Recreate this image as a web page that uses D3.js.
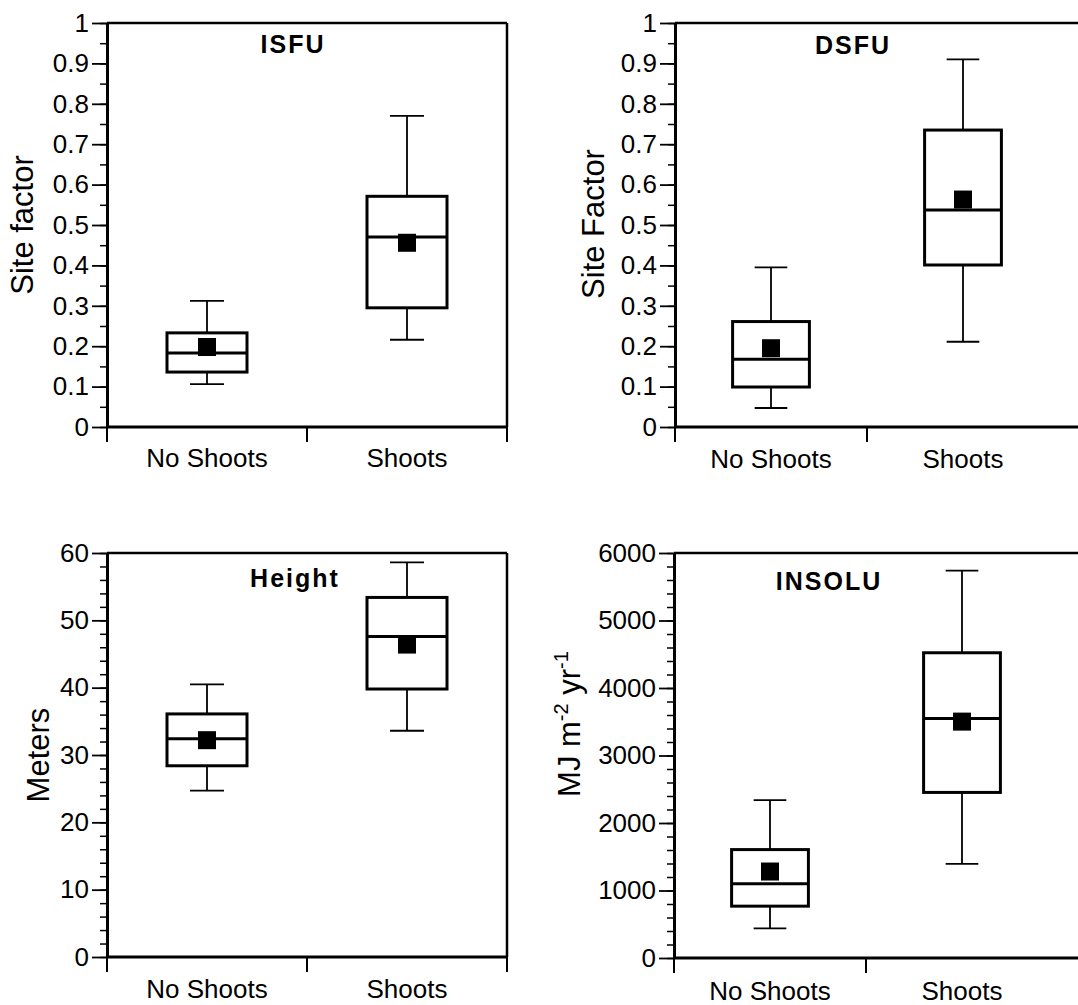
<!DOCTYPE html>
<html>
<head>
<meta charset="utf-8">
<script src="https://cdn.jsdelivr.net/npm/d3@7"></script>
<style>
  html, body { margin: 0; padding: 0; background: #fff; }
  svg { display: block; }
  text { font-family: "Liberation Sans", Arial, Helvetica, sans-serif; fill: #000; }
</style>
</head>
<body>
<svg id="chart" width="1078" height="1005"></svg>
<script>
const categories = ['No Shoots', 'Shoots'];

// five-number summaries plus mean
const isfuStats = [
  { min: 0.106, q1: 0.136, median: 0.183, q3: 0.233, max: 0.312, mean: 0.198 },
  { min: 0.216, q1: 0.295, median: 0.470, q3: 0.571, max: 0.770, mean: 0.456 }
];
const dsfuStats = [
  { min: 0.047, q1: 0.099, median: 0.168, q3: 0.261, max: 0.395, mean: 0.195 },
  { min: 0.211, q1: 0.401, median: 0.537, q3: 0.735, max: 0.910, mean: 0.563 }
];
const heightStats = [
  { min: 24.7, q1: 28.4, median: 32.4, q3: 36.1, max: 40.5, mean: 32.2 },
  { min: 33.6, q1: 39.8, median: 47.6, q3: 53.4, max: 58.6, mean: 46.4 }
];
const insoluStats = [
  { min: 438, q1: 768, median: 1099, q3: 1606, max: 2340, mean: 1281 },
  { min: 1394, q1: 2453, median: 3547, q3: 4522, max: 5739, mean: 3502 }
];

const siteTicks = [0, 0.1, 0.2, 0.3, 0.4, 0.5, 0.6, 0.7, 0.8, 0.9, 1];
const heightTicks = [0, 10, 20, 30, 40, 50, 60];
const insoluTicks = [0, 1000, 2000, 3000, 4000, 5000, 6000];

// right column is cropped in the original, so its frame runs off the page
const panels = [
  { title: 'ISFU', stats: isfuStats, ticks: siteTicks, minorStep: 0.05, yLabel: 'Site factor',
    left: 107, right: 507, frameRight: 507, top: 23, bottom: 427,
    titleX: 293, titleY: 53, labelX: 33, labelY: 225, catY: 467 },
  { title: 'DSFU', stats: dsfuStats, ticks: siteTicks, minorStep: 0.05, yLabel: 'Site Factor',
    left: 675, right: 1059, frameRight: 1110, top: 23, bottom: 427,
    titleX: 853, titleY: 54, labelX: 604, labelY: 224, catY: 468 },
  { title: 'Height', stats: heightStats, ticks: heightTicks, minorStep: 2, yLabel: 'Meters',
    left: 107, right: 507, frameRight: 507, top: 553, bottom: 957,
    titleX: 295, titleY: 587, labelX: 49, labelY: 755, catY: 998 },
  { title: 'INSOLU', stats: insoluStats, ticks: insoluTicks, minorStep: 200, yLabel: 'MJ',
    left: 674, right: 1058, frameRight: 1110, top: 553, bottom: 958,
    titleX: 829, titleY: 590, labelX: 580, labelY: 724, catY: 1000 }
];

const svg = d3.select('#chart');

function drawPanel(p) {
  const g = svg.append('g');
  const domainMax = p.ticks[p.ticks.length - 1];

  const y = d3.scaleLinear()
    .domain([0, domainMax])
    .range([p.bottom, p.top]);

  const x = d3.scaleBand()
    .domain(categories)
    .range([p.left, p.right])
    .padding(0);

  const bw = x.bandwidth();
  const boxW = bw * 0.4;
  const capW = bw * 0.17;
  const meanSize = 18;

  // frame (top + right)
  g.append('line')
    .attr('x1', p.left).attr('x2', p.frameRight)
    .attr('y1', p.top).attr('y2', p.top)
    .attr('stroke', '#000').attr('stroke-width', 2.5);
  g.append('line')
    .attr('x1', p.frameRight).attr('x2', p.frameRight)
    .attr('y1', p.top).attr('y2', p.bottom)
    .attr('stroke', '#000').attr('stroke-width', 2.5);

  // minor ticks
  const minorVals = d3.range(0, domainMax + p.minorStep / 2, p.minorStep);
  g.append('g')
    .attr('transform', `translate(${p.left},0)`)
    .call(d3.axisLeft(y).tickValues(minorVals).tickSize(7).tickSizeOuter(0).tickFormat(''))
    .call(a => a.select('.domain').remove())
    .call(a => a.selectAll('line').attr('stroke-width', 1.5));

  // major ticks + labels
  g.append('g')
    .attr('transform', `translate(${p.left},0)`)
    .call(d3.axisLeft(y).tickValues(p.ticks).tickSize(15).tickSizeOuter(0).tickPadding(3).tickFormat(d => String(d)))
    .call(a => a.select('.domain').attr('stroke-width', 3))
    .call(a => a.selectAll('line').attr('stroke-width', 1.8))
    .call(a => a.selectAll('text')
      .attr('font-size', 26)
      .attr('fill', '#000'));

  // x axis line
  g.append('line')
    .attr('x1', p.left).attr('x2', p.frameRight)
    .attr('y1', p.bottom).attr('y2', p.bottom)
    .attr('stroke', '#000').attr('stroke-width', 3);

  // x ticks at band edges; the far edge only where the frame closes there
  const cropped = p.frameRight !== p.right;
  const edges = categories.map(c => x(c));
  if (!cropped) edges.push(x(categories[categories.length - 1]) + bw);
  g.selectAll('.xtick')
    .data(edges)
    .enter().append('line')
    .attr('class', 'xtick')
    .attr('x1', d => d).attr('x2', d => d)
    .attr('y1', p.bottom).attr('y2', p.bottom + 15)
    .attr('stroke', '#000').attr('stroke-width', 2);

  g.selectAll('.xlabel')
    .data(categories)
    .enter().append('text')
    .attr('class', 'xlabel')
    .attr('x', d => x(d) + bw / 2)
    .attr('y', p.catY)
    .attr('text-anchor', 'middle')
    .attr('font-size', 26)
    .text(d => d);

  // title
  g.append('text')
    .attr('x', p.titleX)
    .attr('y', p.titleY)
    .attr('text-anchor', 'middle')
    .attr('font-size', 25)
    .attr('font-weight', 'bold')
    .attr('letter-spacing', 2)
    .text(p.title);

  // y label
  const yl = g.append('text')
    .attr('transform', `translate(${p.labelX},${p.labelY}) rotate(-90)`)
    .attr('text-anchor', 'middle')
    .attr('font-size', 31);
  if (p.yLabel === 'MJ') {
    yl.append('tspan').text('MJ m');
    yl.append('tspan').attr('font-size', 20).attr('dy', -12).text('-2');
    yl.append('tspan').attr('dy', 12).text(' yr');
    yl.append('tspan').attr('font-size', 20).attr('dy', -12).text('-1');
  } else {
    yl.text(p.yLabel);
  }

  // boxes
  const boxes = g.selectAll('.box')
    .data(p.stats.map((s, i) => ({ ...s, cat: categories[i] })))
    .enter().append('g')
    .attr('class', 'box');

  const cx = d => x(d.cat) + bw / 2;

  // whiskers
  boxes.append('line')
    .attr('x1', cx).attr('x2', cx)
    .attr('y1', d => y(d.q3)).attr('y2', d => y(d.max))
    .attr('stroke', '#000').attr('stroke-width', 1.8);
  boxes.append('line')
    .attr('x1', cx).attr('x2', cx)
    .attr('y1', d => y(d.q1)).attr('y2', d => y(d.min))
    .attr('stroke', '#000').attr('stroke-width', 1.8);
  boxes.append('line')
    .attr('x1', d => cx(d) - capW / 2).attr('x2', d => cx(d) + capW / 2)
    .attr('y1', d => y(d.max)).attr('y2', d => y(d.max))
    .attr('stroke', '#000').attr('stroke-width', 1.8);
  boxes.append('line')
    .attr('x1', d => cx(d) - capW / 2).attr('x2', d => cx(d) + capW / 2)
    .attr('y1', d => y(d.min)).attr('y2', d => y(d.min))
    .attr('stroke', '#000').attr('stroke-width', 1.8);

  boxes.append('rect')
    .attr('x', d => cx(d) - boxW / 2)
    .attr('width', boxW)
    .attr('y', d => y(d.q3))
    .attr('height', d => y(d.q1) - y(d.q3))
    .attr('fill', '#fff')
    .attr('stroke', '#000')
    .attr('stroke-width', 3);

  // mean marker
  boxes.append('rect')
    .attr('x', d => cx(d) - meanSize / 2)
    .attr('y', d => y(d.mean) - meanSize / 2)
    .attr('width', meanSize)
    .attr('height', meanSize)
    .attr('fill', '#000');

  // median
  boxes.append('line')
    .attr('x1', d => cx(d) - boxW / 2).attr('x2', d => cx(d) + boxW / 2)
    .attr('y1', d => y(d.median)).attr('y2', d => y(d.median))
    .attr('stroke', '#000').attr('stroke-width', 3);
}

panels.forEach(drawPanel);
</script>
</body>
</html>
